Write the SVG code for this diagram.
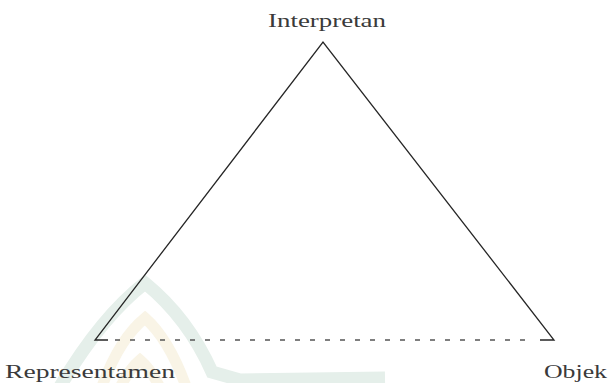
<svg xmlns="http://www.w3.org/2000/svg" width="611" height="383" viewBox="0 0 611 383">
<style>
.lbl{font-family:"Liberation Serif","DejaVu Serif",serif;font-size:18px;fill:#3a3a3a}
.edge{stroke:#262626;stroke-width:1.3;fill:none;stroke-linecap:butt}
.dash{stroke:#555555;stroke-width:1.3;fill:none;stroke-dasharray:5 10}
.wm-g{stroke:#e5efea;fill:none;stroke-width:13}
.wm-y{stroke:#f9f4e6;fill:none;stroke-width:11}
</style>
<rect width="611" height="383" fill="#ffffff"/>
<g id="watermark">
  <path class="wm-g" d="M58 390 Q100 318 145 283 Q188 318 212 372 L240 380 L385 378"/>
  <path class="wm-y" d="M100 392 Q118 340 145 318 Q170 340 188 392"/>
  <path class="wm-y" d="M118 392 Q128 370 140 360 Q152 370 162 392"/>
</g>
<g id="connectors">
  <path class="edge" d="M108 340 L95 340 L323 42 L554 340 L540 340"/>
  <line class="dash" x1="115" y1="340" x2="533" y2="340"/>
</g>
<g id="node-interpretan">
  <text class="lbl" x="268" y="27" textLength="118" lengthAdjust="spacingAndGlyphs">Interpretan</text>
</g>
<g id="node-representamen">
  <text class="lbl" x="5" y="378" textLength="170" lengthAdjust="spacingAndGlyphs">Representamen</text>
</g>
<g id="node-objek">
  <text class="lbl" x="544" y="378" textLength="63" lengthAdjust="spacingAndGlyphs">Objek</text>
</g>
</svg>
